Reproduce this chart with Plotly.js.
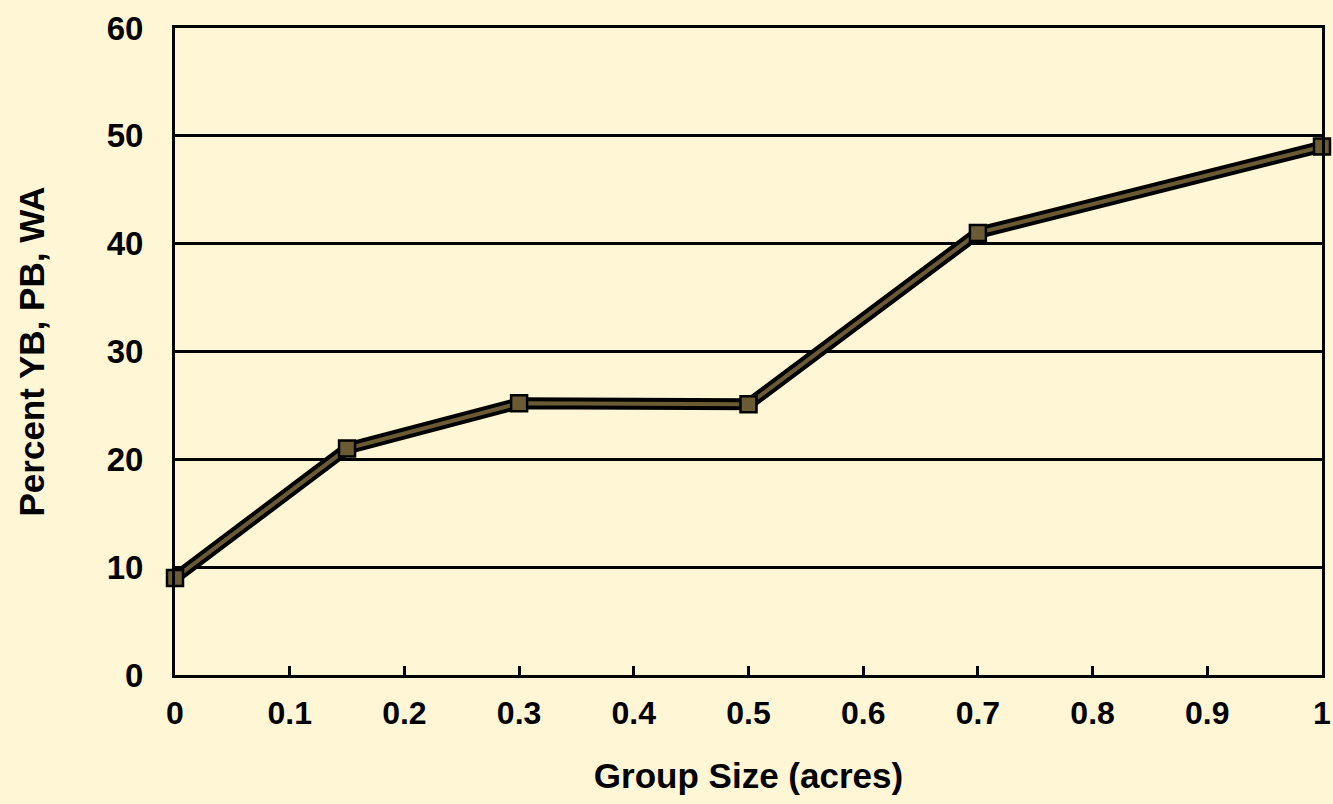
<!DOCTYPE html>
<html>
<head>
<meta charset="utf-8">
<script src="https://cdn.plot.ly/plotly-3.0.1.min.js"></script>
<style>
html,body{margin:0;padding:0;background:#FFF6D6;}
#chart{width:1333px;height:804px;}
</style>
</head>
<body>
<div id="chart"></div>
<script>
const groupSize = [0, 0.15, 0.3, 0.5, 0.7, 1];
const percentYBPBWA = [9, 21, 25.2, 25.1, 41, 49];
const xTicks = [0, 0.1, 0.2, 0.3, 0.4, 0.5, 0.6, 0.7, 0.8, 0.9, 1];
const xTickLabels = ['0', '0.1', '0.2', '0.3', '0.4', '0.5', '0.6', '0.7', '0.8', '0.9', '1'];
const yTicks = [0, 10, 20, 30, 40, 50, 60];

const bg = '#FFF6D6';
const olive = '#6B5B35';
const fontFam = '"Liberation Sans", Arial, sans-serif';

const traces = [
  {x: groupSize, y: percentYBPBWA, mode: 'lines', line: {color: '#000', width: 12},
   hoverinfo: 'skip', showlegend: false, cliponaxis: false},
  {x: groupSize, y: percentYBPBWA, mode: 'lines+markers', line: {color: olive, width: 4},
   marker: {symbol: 'square', size: 16, color: olive, line: {color: '#000', width: 2.5}},
   showlegend: false, cliponaxis: false}
];

const layout = {
  width: 1333, height: 804,
  paper_bgcolor: bg, plot_bgcolor: bg,
  margin: {l: 175, r: 11, t: 28, b: 129},
  font: {family: fontFam, color: '#000', size: 34, weight: 'bold'},
  xaxis: {
    range: [0, 1], tickvals: xTicks, ticktext: xTickLabels,
    ticks: 'inside', ticklen: 9, tickwidth: 3, tickcolor: '#000',
    showgrid: false, zeroline: false,
    showline: true, linecolor: '#000', linewidth: 3, mirror: true,
    tickfont: {family: fontFam, size: 32, weight: 'bold', color: '#000'},
    ticklabelstandoff: 8,
    ticklabeloverflow: 'allow',
    title: {text: 'Group Size (acres)', standoff: 34,
            font: {family: fontFam, size: 35, weight: 'bold', color: '#000'}}
  },
  yaxis: {
    range: [0, 60], tickvals: yTicks,
    ticks: '', showgrid: true, gridcolor: '#000', gridwidth: 3,
    zeroline: false,
    showline: true, linecolor: '#000', linewidth: 3, mirror: true,
    tickfont: {family: fontFam, size: 33, weight: 'bold', color: '#000'},
    ticklabelstandoff: 22,
    ticklabeloverflow: 'allow',
    title: {text: 'Percent YB, PB, WA', standoff: 52,
            font: {family: fontFam, size: 35, weight: 'bold', color: '#000'}}
  }
};

Plotly.newPlot('chart', traces, layout, {displayModeBar: false, staticPlot: true});
</script>
</body>
</html>
